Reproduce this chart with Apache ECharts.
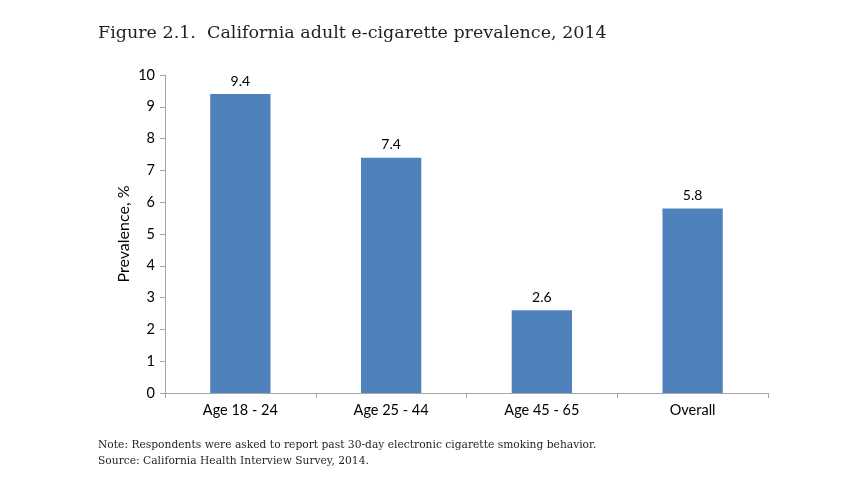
<!DOCTYPE html>
<html><head><meta charset="utf-8">
<script src="https://cdn.jsdelivr.net/npm/echarts@6/dist/echarts.min.js"></script>
<style>html,body{margin:0;padding:0;background:#fff}#c{width:852px;height:501px}</style>
</head><body><div id="c"></div>
<script>
var categories = ['Age 18 - 24', 'Age 25 - 44', 'Age 45 - 65', 'Overall'];
var prevalence = [9.4, 7.4, 2.6, 5.8];
var titleText = 'Figure 2.1.  California adult e-cigarette prevalence, 2014';
var noteLines = ['Note: Respondents were asked to report past 30-day electronic cigarette smoking behavior.',
                 'Source: California Health Interview Survey, 2014.'];
var chart = echarts.init(document.getElementById('c'), null, {renderer: 'canvas'});
chart.setOption({
  backgroundColor: '#fff',
  animation: false,
  title: [{
    text: titleText, left: 98, top: 24, padding: 0,
    textStyle: {fontFamily: 'DejaVu Serif', fontSize: 17.5, fontWeight: 'normal', color: '#231f20'}
  }, {
    text: noteLines.join('\n'), left: 98, top: 437, padding: 0,
    textStyle: {fontFamily: 'DejaVu Serif', fontSize: 10.7, fontWeight: 'normal', color: '#231f20', lineHeight: 16}
  }],
  grid: {left: 165, top: 75, right: 84, bottom: 108, containLabel: false},
  xAxis: {
    type: 'category', data: categories,
    axisLine: {lineStyle: {color: '#a6a6a6', width: 1}},
    axisTick: {show: true, alignWithLabel: false, length: 5, lineStyle: {color: '#a6a6a6'}},
    axisLabel: {fontFamily: 'Lato', fontSize: 14.5, color: '#000', margin: 10}
  },
  yAxis: {
    type: 'value', min: 0, max: 10, interval: 1,
    name: 'Prevalence, %', nameLocation: 'middle', nameGap: 33, nameRotate: 90, nameMoveOverlap: false,
    nameTextStyle: {fontFamily: 'Lato', fontSize: 16, color: '#000'},
    axisLine: {show: true, lineStyle: {color: '#a6a6a6', width: 1}},
    axisTick: {show: true, length: 5, lineStyle: {color: '#a6a6a6'}},
    splitLine: {show: false},
    axisLabel: {fontFamily: 'Lato', fontSize: 14.5, color: '#000', margin: 10}
  },
  series: [{
    type: 'bar', data: prevalence, barWidth: '40%',
    itemStyle: {color: '#4f81bd'},
    label: {show: true, position: 'top', distance: 6, fontFamily: 'Lato', fontSize: 14, color: '#000',
      formatter: function (p) { return p.value.toFixed(1); }}
  }]
});
</script></body></html>
